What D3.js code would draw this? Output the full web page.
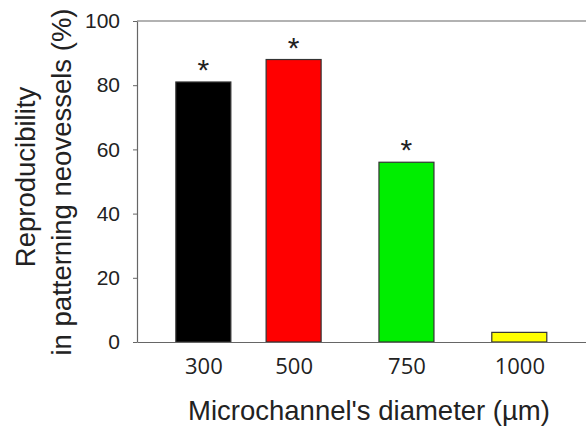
<!DOCTYPE html>
<html>
<head>
<meta charset="utf-8">
<script src="https://cdn.jsdelivr.net/npm/d3@7"></script>
<style>
  body { margin: 0; background: #fff; }
  svg { display: block; }
</style>
</head>
<body>
<script>
// data
var diameters = [300, 500, 750, 1000]
var reproducibility = [81, 88, 56, 3]
var barColors = ['#000000', '#ff0000', '#00ee00', '#ffff00']
var significant = [true, true, true, false]
var yTicks = [0, 20, 40, 60, 80, 100]

var W = 586, H = 429
var plotLeft = 137, plotRight = 587, plotTop = 21, plotBottom = 342
var barW = 55

var svg = d3.select('body').append('svg')
  .attr('width', W)
  .attr('height', H)

var x = d3.scaleLinear().domain([153, 1150]).range([plotLeft, plotRight])
var y = d3.scaleLinear().domain([0, 100]).range([plotBottom, plotTop])

// top frame line
svg.append('line')
  .attr('x1', plotLeft).attr('x2', plotRight)
  .attr('y1', y(100)).attr('y2', y(100))
  .attr('stroke', '#666').attr('stroke-width', 1.2)

// bars
svg.selectAll('rect.bar')
  .data(diameters)
  .enter().append('rect')
  .attr('class', 'bar')
  .attr('x', function(d) { return x(d) - barW / 2 })
  .attr('y', function(d, i) { return y(reproducibility[i]) })
  .attr('width', barW)
  .attr('height', function(d, i) { return y(0) - y(reproducibility[i]) })
  .attr('fill', function(d, i) { return barColors[i] })
  .attr('stroke', '#333')
  .attr('stroke-width', 1.2)

// asterisks
svg.selectAll('text.star')
  .data(diameters.filter(function(d, i) { return significant[i] }))
  .enter().append('text')
  .attr('class', 'star')
  .attr('x', function(d) { return x(d) })
  .attr('y', function(d) { return y(reproducibility[diameters.indexOf(d)]) - 2 })
  .attr('text-anchor', 'middle')
  .style('font-family', 'Liberation Sans, Arial, sans-serif')
  .style('font-size', '30px')
  .attr('fill', '#222')
  .text('*')

// y axis
var yAxis = svg.append('g')
  .attr('transform', 'translate(' + plotLeft + ',0)')
  .call(d3.axisLeft(y).tickValues(yTicks).tickSize(4).tickSizeOuter(0).tickPadding(13))
yAxis.select('.domain').attr('stroke', '#666').attr('stroke-width', 1.2)
yAxis.selectAll('.tick line').attr('stroke', '#666')
yAxis.selectAll('.tick text')
  .style('font-family', 'Liberation Sans, Arial, sans-serif')
  .style('font-size', '21px')
  .attr('fill', '#222')

// x axis
var xAxis = svg.append('g')
  .attr('transform', 'translate(0,' + plotBottom + ')')
  .call(d3.axisBottom(x).tickValues(diameters).tickFormat(d3.format('d'))
    .tickSize(0).tickSizeOuter(0).tickPadding(16))
xAxis.select('.domain').attr('stroke', '#666').attr('stroke-width', 1.2)
xAxis.selectAll('.tick text')
  .style('font-family', 'Open Sans, sans-serif')
  .style('font-size', '22px')
  .attr('fill', '#222')

// axis titles
svg.append('text')
  .attr('x', 369).attr('y', 420)
  .attr('text-anchor', 'middle')
  .style('font-family', 'Liberation Sans, Arial, sans-serif')
  .style('font-size', '27.5px')
  .attr('fill', '#222')
  .text('Microchannel\'s diameter (\u00b5m)')

var yTitle = svg.append('text')
  .attr('transform', 'translate(0,182) rotate(-90)')
  .attr('text-anchor', 'middle')
  .style('font-family', 'Liberation Sans, Arial, sans-serif')
  .style('font-size', '27.5px')
  .attr('fill', '#222')
yTitle.append('tspan').attr('x', 5).attr('y', 35).text('Reproducibility')
yTitle.append('tspan').attr('x', 0).attr('y', 71).text('in patterning neovessels (%)')
</script>
</body>
</html>
